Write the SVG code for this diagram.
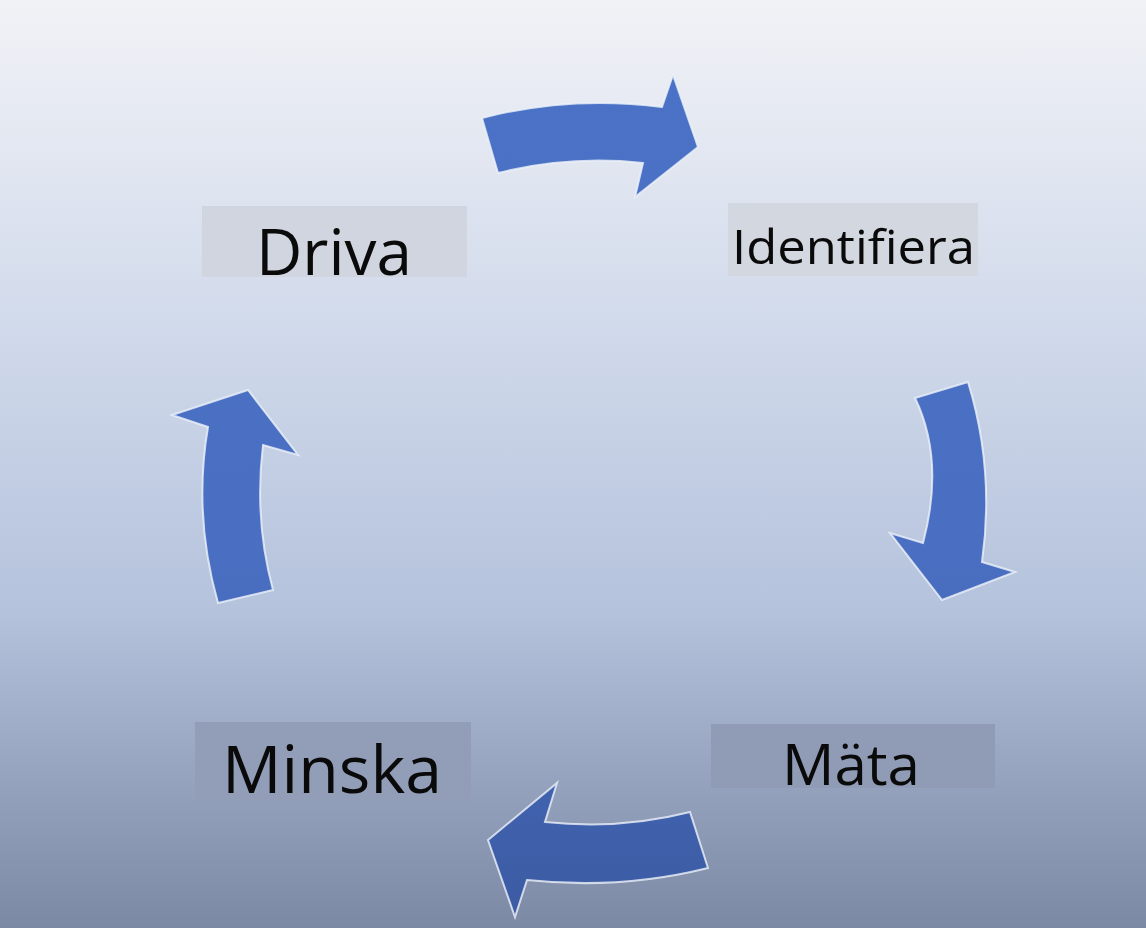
<svg xmlns="http://www.w3.org/2000/svg" width="1146" height="928" viewBox="0 0 1146 928">
  <defs>
    <linearGradient id="bg" x1="0" y1="0" x2="0" y2="1">
      <stop offset="0" stop-color="#f1f2f6"/>
      <stop offset="0.35" stop-color="#d1daeb"/>
      <stop offset="0.66" stop-color="#b4c2dc"/>
      <stop offset="0.82" stop-color="#98a6c1"/>
      <stop offset="1" stop-color="#7c89a5"/>
    </linearGradient>
    <linearGradient id="arr" x1="0" y1="0" x2="0" y2="928" gradientUnits="userSpaceOnUse">
      <stop offset="0" stop-color="#4a72c6"/>
      <stop offset="0.6" stop-color="#4a6fc2"/>
      <stop offset="1" stop-color="#3b5aa2"/>
    </linearGradient>
  </defs>
  <style>
    .arrow { fill: url(#arr); stroke: #eef2fa; stroke-width: 2; stroke-linejoin: miter; stroke-opacity: 0.8; }
    .lbl { font-family: "Open Sans", "Noto Sans", "DejaVu Sans", sans-serif; fill: #0a0a0a; }
  </style>
  <rect x="0" y="0" width="1146" height="928" fill="url(#bg)"/>

  <g id="driva">
    <rect x="202" y="206" width="265" height="71" fill="#d1d5df"/>
    <text class="lbl" x="256" y="275" font-size="64" textLength="156" lengthAdjust="spacingAndGlyphs">Driva</text>
  </g>
  <g id="identifiera">
    <rect x="728" y="203" width="250" height="73" fill="#d3d7e0"/>
    <text class="lbl" x="732" y="264" font-size="48" textLength="243" lengthAdjust="spacingAndGlyphs">Identifiera</text>
  </g>
  <g id="mata">
    <rect x="711" y="724" width="284" height="64" fill="#909cb6"/>
    <text class="lbl" x="782" y="785" font-size="56" textLength="138" lengthAdjust="spacingAndGlyphs">Mäta</text>
  </g>
  <g id="minska">
    <rect x="195" y="722" width="276" height="80" fill="#929eb8"/>
    <text class="lbl" x="222" y="793" font-size="66" textLength="220" lengthAdjust="spacingAndGlyphs">Minska</text>
  </g>

  <g id="connectors">
    <path class="arrow" d="M 482 118 Q 570 95 662 107 L 673 75 L 698 147 L 635 197 L 643 163 Q 570 155 498 173 Z"/>
    <path class="arrow" d="M 968 382 Q 995 470 982 562 L 1015 572 L 942 600 L 890 533 L 923 543 Q 945 460 915 398 Z"/>
    <path class="arrow" d="M 690 812 Q 620 830 545 822 L 557 783 L 488 840 L 515 917 L 527 880 Q 620 890 708 868 Z"/>
    <path class="arrow" d="M 218 603 Q 193 515 208 427 L 172 415 L 248 390 L 298 455 L 263 445 Q 254 520 273 590 Z"/>
  </g>
</svg>
